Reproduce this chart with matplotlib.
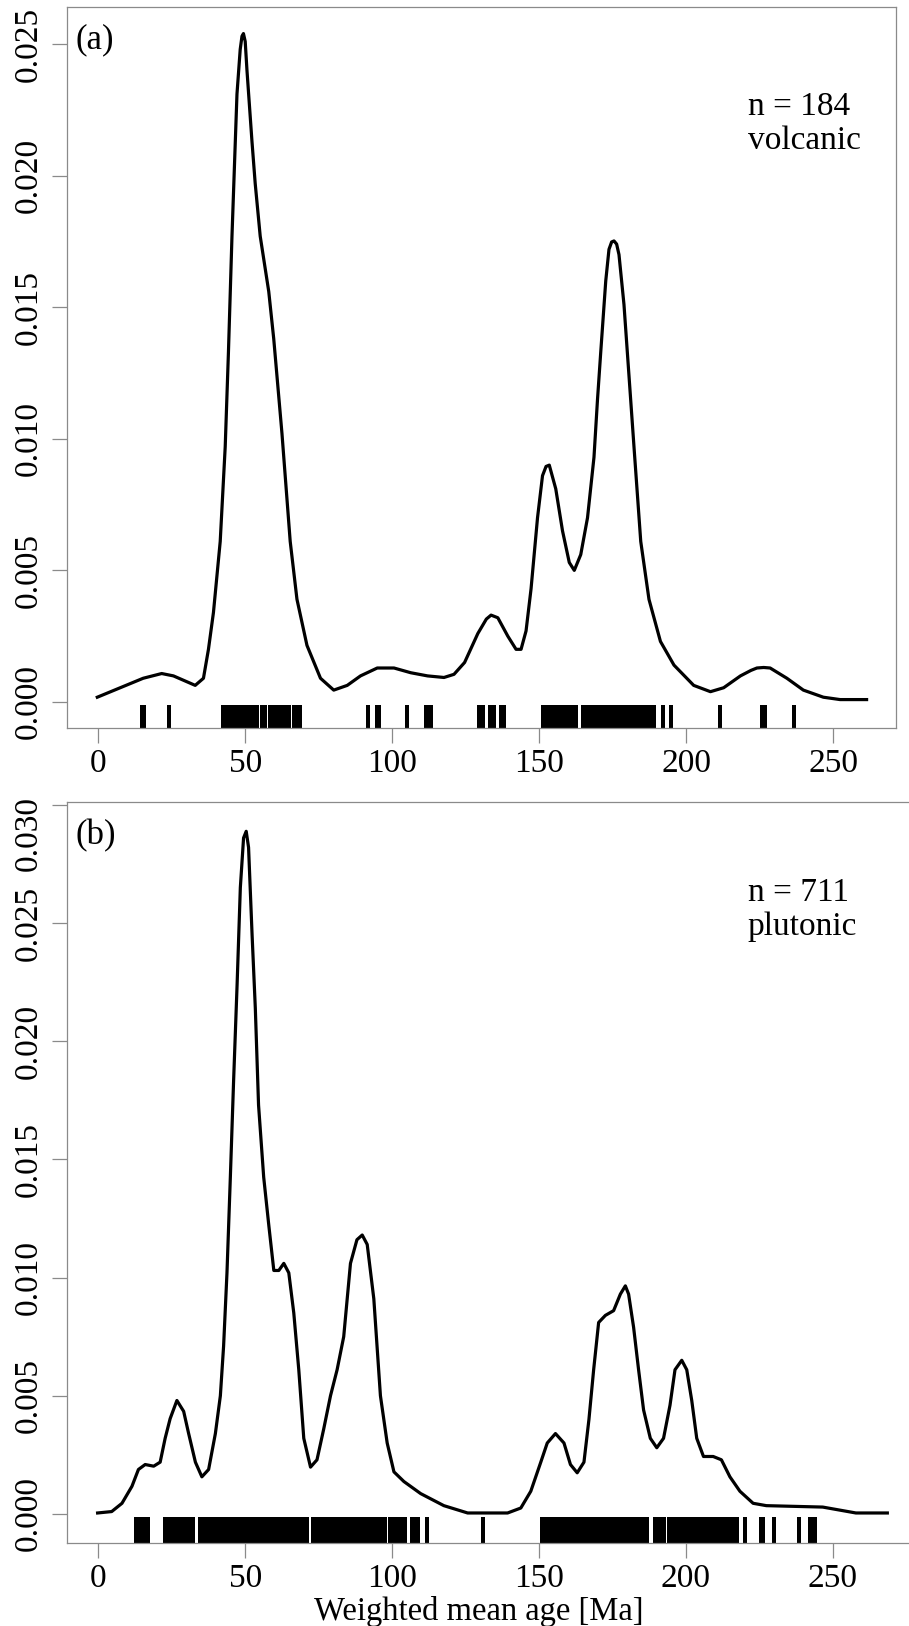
import matplotlib
matplotlib.use('Agg')
import matplotlib.pyplot as plt
from matplotlib.transforms import ScaledTranslation

plt.rcParams['font.family'] = ['Liberation Serif', 'DejaVu Serif']

# ---------------- data: panel (a) volcanic ----------------
age_a = [-0.3, 15.3, 21.6, 25.6, 33.0, 35.8, 37.5, 39.2, 41.5, 43.2, 44.3, 45.5, 47.2, 48.3, 48.9, 49.4,
         50.0, 50.6, 52.3, 53.4, 55.1, 58.0, 59.7, 62.5, 65.3, 67.6, 71.0, 75.6, 80.1, 84.7, 89.2, 94.9,
         100.6, 106.3, 112.0, 117.6, 121.0, 124.6, 129.1, 132.0, 133.6, 135.9, 139.3, 142.1, 143.8, 145.5,
         147.2, 149.4, 151.1, 152.3, 153.4, 155.6, 157.9, 160.2, 161.9, 164.1, 166.4, 168.6, 169.8, 170.9,
         172.6, 173.7, 174.6, 175.4, 176.3, 177.1, 178.8, 180.5, 182.2, 184.5, 187.3, 191.2, 195.8, 202.5,
         208.2, 212.7, 218.4, 222.0, 224.0, 226.3, 228.5, 234.2, 239.8, 246.6, 252.3, 261.3]
dens_a = [0.00018, 0.00090, 0.00108, 0.00099, 0.00063, 0.00090, 0.00200, 0.00340, 0.00610, 0.00970,
          0.01330, 0.01770, 0.02310, 0.02480, 0.02530, 0.02540, 0.02510, 0.02400, 0.02130, 0.01970,
          0.01770, 0.01560, 0.01380, 0.01020, 0.00610, 0.00390, 0.00215, 0.00090, 0.00045, 0.00063,
          0.00099, 0.00129, 0.00129, 0.00111, 0.00099, 0.00093, 0.00105, 0.00150, 0.00260, 0.00315,
          0.00330, 0.00320, 0.00250, 0.00200, 0.00200, 0.00270, 0.00430, 0.00700, 0.00860, 0.00895,
          0.00900, 0.00810, 0.00650, 0.00530, 0.00500, 0.00560, 0.00700, 0.00930, 0.01150, 0.01330,
          0.01600, 0.01720, 0.01748, 0.01752, 0.01740, 0.01700, 0.01510, 0.01240, 0.00970, 0.00610,
          0.00390, 0.00230, 0.00140, 0.00063, 0.00039, 0.00054, 0.00099, 0.00120, 0.00129, 0.00131,
          0.00129, 0.00090, 0.00045, 0.00018, 0.00009, 0.00009]
rug_a = [15.0, 15.5, 24.2,
         42.5, 43.0, 43.5, 44.0, 44.5, 45.0, 45.5, 46.0, 46.5, 47.0, 47.5, 48.0, 48.5, 49.0, 49.5,
         50.0, 50.5, 51.2, 52.0, 52.5, 53.3, 54.0, 55.6, 56.0, 56.6, 58.4, 58.9, 59.5, 60.0, 60.6,
         61.2, 62.2, 62.7, 64.3, 64.9, 66.6, 67.9, 68.6,
         91.7, 94.8, 95.4, 105.1, 111.4, 112.5, 113.3, 129.6, 130.3, 130.8, 133.1, 133.7, 134.5,
         137.1, 138.0,
         151.2, 151.8, 152.4, 153.2, 154.1, 154.6, 155.3, 155.9, 156.9, 157.4, 158.3, 159.1, 160.0,
         161.4, 161.9, 162.6, 165.0, 165.8, 166.6, 167.5, 168.3,
         168.7, 169.2, 169.7, 170.2, 170.7, 171.2, 171.7, 172.2, 172.7, 173.2, 173.7, 174.2, 174.7,
         175.2, 175.7, 176.2, 176.7, 177.2, 177.7, 178.2, 178.7, 179.2, 179.7, 180.2, 180.8,
         181.6, 182.4, 183.3, 184.2, 185.7, 186.4, 187.3, 188.2, 189.0, 192.1, 194.9, 211.6,
         225.8, 226.3, 226.8, 236.7]

# ---------------- data: panel (b) plutonic ----------------
age_b = [-0.3, 4.5, 8.0, 11.4, 13.6, 15.9, 18.8, 21.0, 22.7, 24.4, 26.7, 29.0, 30.7, 33.0, 35.2,
         37.5, 39.8, 41.5, 42.6, 43.75, 44.9, 46.0, 47.2, 48.3, 49.4, 50.3, 51.1, 52.3, 53.4, 54.5,
         56.25, 58.0, 59.7, 61.4, 63.1, 64.8, 66.5, 68.2, 69.9, 72.2, 74.4, 76.7, 79.0, 81.25, 83.5,
         85.8, 88.0, 89.8, 91.5, 93.75, 96.0, 98.3, 100.6, 104.0, 109.7, 117.6, 125.7, 139.3, 143.8,
         147.2, 150.6, 152.8, 155.6, 158.5, 160.7, 163.0, 165.3, 167.0, 168.6, 170.3, 172.6, 175.4,
         177.7, 179.4, 180.5, 182.2, 183.9, 185.6, 187.9, 190.1, 192.4, 194.6, 196.3, 198.6, 200.3,
         202.0, 203.7, 206.0, 209.3, 212.1, 215.0, 218.4, 222.9, 227.4, 246.6, 257.9, 268.6]
dens_b = [0.00004, 0.00010, 0.00045, 0.00117, 0.00188, 0.00209, 0.00202, 0.00219, 0.00320, 0.00403,
          0.00480, 0.00434, 0.00340, 0.00219, 0.00157, 0.00188, 0.00340, 0.00500, 0.00710, 0.01020,
          0.01425, 0.01830, 0.02240, 0.02650, 0.02860, 0.02888, 0.02820, 0.02450, 0.02140, 0.01730,
          0.01425, 0.01220, 0.01030, 0.01030, 0.01060, 0.01020, 0.00850, 0.00610, 0.00320, 0.00198,
          0.00229, 0.00360, 0.00500, 0.00610, 0.00750, 0.01060, 0.01160, 0.01180, 0.01140, 0.00910,
          0.00500, 0.00300, 0.00178, 0.00137, 0.00086, 0.00035, 0.00004, 0.00004, 0.00025, 0.00096,
          0.00219, 0.00300, 0.00340, 0.00300, 0.00209, 0.00174, 0.00219, 0.00400, 0.00610, 0.00810,
          0.00840, 0.00860, 0.00930, 0.00965, 0.00930, 0.00790, 0.00610, 0.00440, 0.00320, 0.00280,
          0.00320, 0.00460, 0.00610, 0.00650, 0.00610, 0.00480, 0.00320, 0.00243, 0.00243, 0.00229,
          0.00157, 0.00096, 0.00045, 0.00035, 0.00029, 0.00004, 0.00004]
rug_b = [12.7, 13.2, 13.7, 14.2, 14.7, 15.2, 15.7, 16.2, 16.8,
         22.8, 23.4, 24.2, 24.9, 25.4, 25.9, 26.4, 26.9, 27.6, 28.4, 28.9, 29.4, 29.9, 30.4, 31.4, 32.3,
         34.7, 35.2, 35.7, 36.2, 36.7, 37.2, 37.7, 38.3,
         39.7, 40.2, 40.7, 41.2, 41.7, 42.2, 42.7, 43.2, 43.7, 44.2, 44.7, 45.2, 45.7, 46.2, 46.7,
         47.2, 47.7, 48.2, 48.7, 49.2, 49.7, 50.2, 50.7, 51.2, 51.7, 52.2, 52.7, 53.2, 53.7, 54.2,
         54.7, 55.2, 55.7, 56.2, 56.7, 57.2, 57.7, 58.2, 58.7, 59.2, 59.7, 60.2, 60.7, 61.2, 61.7,
         62.2, 62.7, 63.2, 63.7, 64.2, 64.7, 65.2, 65.7, 66.2, 66.7, 67.2, 67.7, 68.2,
         69.0, 69.7, 70.3, 71.0, 72.9, 73.5, 74.2, 74.9,
         75.7, 76.2, 76.7, 77.2, 77.7, 78.2, 78.7, 79.2, 79.7, 80.2, 80.7, 81.2, 81.7, 82.2, 82.7,
         83.2, 83.7, 84.2, 84.7, 85.2, 85.7, 86.2, 86.7, 87.2, 87.7, 88.2, 88.7, 89.2, 89.7, 90.2,
         90.7, 91.2, 91.7, 92.2, 92.7, 93.2, 93.7, 94.2, 94.7, 95.2, 95.7, 96.2, 96.7, 97.2, 97.7,
         99.3, 99.9, 100.5, 101.1, 101.6, 102.1, 102.7, 103.3, 104.2,
         106.6, 107.2, 107.8, 108.9, 111.9, 131.0,
         151.1, 151.6, 152.3, 152.9, 153.3, 153.9, 154.4, 154.9, 155.4, 155.9, 156.4, 156.9, 157.4,
         157.9, 158.5, 159.1, 159.7, 160.3, 160.9, 161.4, 161.9, 162.4, 162.9, 163.4, 163.9, 164.4,
         164.9, 165.5, 166.0, 166.5, 167.0, 167.5, 168.0, 168.5, 169.0, 169.5, 170.0, 170.5, 171.0,
         171.5, 172.0, 172.5, 173.0, 173.5, 174.0, 174.5, 175.0, 175.5, 176.0, 176.5, 177.0, 177.5,
         178.0, 178.5, 179.0, 179.5, 180.0, 180.5, 181.0, 181.5, 182.0, 182.5, 183.0, 183.5, 184.0,
         184.5, 185.0, 185.5, 186.0, 186.8,
         189.5, 190.1, 190.7, 191.3, 192.0, 192.6,
         194.1, 194.6, 195.1, 195.6, 196.1, 196.6, 197.1, 197.6, 198.1, 198.6, 199.1, 199.6, 200.1,
         200.6, 201.1, 201.6, 202.1, 202.7, 203.4, 204.0, 204.7, 205.3, 205.9,
         206.8, 207.3, 207.9, 208.4, 208.9, 209.5, 210.0, 210.6, 211.1, 211.7, 212.2, 212.8, 213.3,
         213.9, 214.4, 214.9, 216.1, 216.8, 217.4, 220.3, 225.5, 226.2, 229.9, 238.4,
         242.4, 242.9, 243.4, 243.9]

xticks = [0, 50, 100, 150, 200, 250]
yticks_a = [0.000, 0.005, 0.010, 0.015, 0.020, 0.025]
yticks_b = [0.000, 0.005, 0.010, 0.015, 0.020, 0.025, 0.030]
label_a = ["n = 184", "volcanic"]
label_b = ["n = 711", "plutonic"]

# ---------------- figure ----------------
W, H = 909, 1626
fig = plt.figure(figsize=(W / 100, H / 100), dpi=100)


def rect(l, t, r, b):
    return [l / W, 1 - b / H, (r - l) / W, (b - t) / H]


ax_a = fig.add_axes(rect(67, 7, 896, 728))
ax_b = fig.add_axes(rect(67, 802, 917, 1543))

GREY = '#8a8a8a'
FS = 24
TICKLEN = 11
YPAD = 6


def style(ax, yt, xlim, ylim, rug, rugh, ylabels):
    ax.set_xlim(*xlim)
    ax.set_ylim(*ylim)
    for s in ax.spines.values():
        s.set_color(GREY)
        s.set_linewidth(0.9)
    ax.set_xticks(xticks)
    ax.set_xticklabels([str(v) for v in xticks], fontsize=FS)
    ax.set_yticks(yt)
    ax.set_yticklabels(ylabels, fontsize=FS, rotation=90, va='center')
    ax.tick_params(axis='both', direction='out', length=TICKLEN, width=0.9, color=GREY,
                   labelcolor='black')
    ax.tick_params(axis='x', pad=4)
    ax.tick_params(axis='y', pad=YPAD)
    ax.vlines(rug, 0, rugh, transform=ax.get_xaxis_transform(), color='black', lw=1.45,
              antialiased=False)


ax_a.plot(age_a, dens_a, color='black', lw=2.3, solid_joinstyle='round')
style(ax_a, yticks_a, (-10.6, 271.3), (-0.00099, 0.02641), rug_a, 0.032,
      ['%.3f' % v for v in yticks_a])
ax_a.text(0.010, 0.955, '(a)', transform=ax_a.transAxes, fontsize=25, ha='left', va='center')
ax_a.text(0.821, 0.862, label_a[0], transform=ax_a.transAxes, fontsize=FS, ha='left', va='center')
ax_a.text(0.821, 0.815, label_a[1], transform=ax_a.transAxes, fontsize=FS, ha='left', va='center')

ax_b.plot(age_b, dens_b, color='black', lw=2.3, solid_joinstyle='round')
# top label of panel (b) sits a little below its tick in the original
ylab_b = ['%.3f' % v for v in yticks_b]
ylab_b[-1] = ''
style(ax_b, yticks_b, (-10.72, 278.7), (-0.00123, 0.03012), rug_b, 0.035, ylab_b)
off = ax_b.get_yaxis_transform() + ScaledTranslation(-(TICKLEN + YPAD) / 72, -0.29,
                                                     fig.dpi_scale_trans)
ax_b.text(0, yticks_b[-1], '%.3f' % yticks_b[-1], transform=off, rotation=90,
          ha='right', va='center', fontsize=FS)
ax_b.text(0.010, 0.955, '(b)', transform=ax_b.transAxes, fontsize=25, ha='left', va='center')
ax_b.text(0.801, 0.878, label_b[0], transform=ax_b.transAxes, fontsize=FS, ha='left', va='center')
ax_b.text(0.801, 0.832, label_b[1], transform=ax_b.transAxes, fontsize=FS, ha='left', va='center')

fig.text(479 / W, 1 - 1611 / H, 'Weighted mean age [Ma]', fontsize=23.5, ha='center', va='center')

fig.savefig('out.png', dpi=100)
